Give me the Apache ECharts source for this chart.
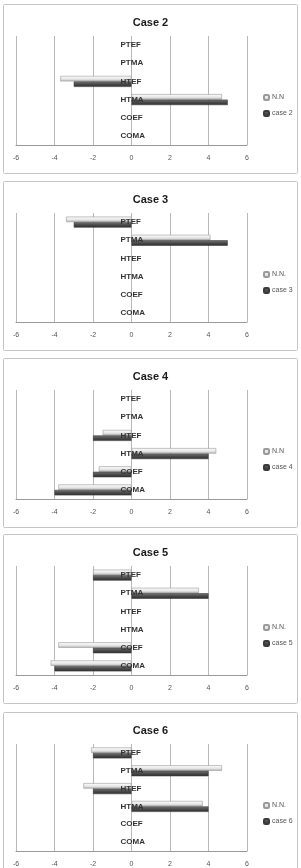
<!DOCTYPE html>
<html>
<head>
<meta charset="utf-8">
<script src="https://cdn.jsdelivr.net/npm/echarts@6/dist/echarts.min.js"></script>
<style>
html,body{margin:0;padding:0;background:#fff;}
#c{width:301px;height:868px;}
</style>
</head>
<body>
<div id="c"></div>
<script>
// Categories, bottom to top
const categories = ['COMA', 'COEF', 'HTMA', 'HTEF', 'PTMA', 'PTEF'];
const xTicks = [-6, -4, -2, 0, 2, 4, 6];
const panelTitles = ['Case 2', 'Case 3', 'Case 4', 'Case 5', 'Case 6'];
const refNames = ['N.N', 'N.N.', 'N.N', 'N.N.', 'N.N.'];
const caseNames = ['case 2', 'case 3', 'case 4', 'case 5', 'case 6'];

// values per category (COMA, COEF, HTMA, HTEF, PTMA, PTEF)
const nnCase2 = [0, 0, 4.7, -3.7, 0, 0];
const case2 = [0, 0, 5, -3, 0, 0];
const nnCase3 = [0, 0, 0, 0, 4.1, -3.4];
const case3 = [0, 0, 0, 0, 5, -3];
const nnCase4 = [-3.8, -1.7, 4.4, -1.5, 0, 0];
const case4 = [-4, -2, 4, -2, 0, 0];
const nnCase5 = [-4.2, -3.8, 0, 0, 3.5, -2];
const case5 = [-4, -2, 0, 0, 4, -2];
const nnCase6 = [0, 0, 3.7, -2.5, 4.7, -2.1];
const case6 = [0, 0, 4, -2, 4, -2];

const nnSeries = [nnCase2, nnCase3, nnCase4, nnCase5, nnCase6];
const caseSeries = [case2, case3, case4, case5, case6];

const panelTops = [4, 181, 358, 534, 712];
const W = 301;
const gridLeft = 16, gridRight = 247;

const lightFill = new echarts.graphic.LinearGradient(0, 0, 0, 1, [
  {offset: 0, color: '#ffffff'}, {offset: 0.6, color: '#e4e4e4'}, {offset: 1, color: '#b0b0b0'}
]);
const darkFill = new echarts.graphic.LinearGradient(0, 0, 0, 1, [
  {offset: 0, color: '#7a7a7a'}, {offset: 0.5, color: '#4a4a4a'}, {offset: 1, color: '#2e2e2e'}
]);

// zero-valued entries draw no bar
const barData = arr => arr.map(v => (v === 0 ? '-' : v));

const grids = [], xAxes = [], yAxes = [], series = [], titles = [], legends = [], graphics = [];
panelTops.forEach((T, i) => {
  const last = i === panelTops.length - 1;
  graphics.push({
    type: 'rect', silent: true, z: 0,
    shape: {x: 3.5, y: T + 0.5, width: 294, height: last ? 200 : 169, r: 1},
    style: {fill: '#fff', stroke: '#c4c4c4', lineWidth: 1}
  });
  titles.push({
    text: panelTitles[i], left: 'center', top: T + 8,
    textStyle: {fontFamily: 'Liberation Sans, Arial', fontWeight: 'bold', fontSize: 11, color: '#1a1a1a'}
  });
  grids.push({left: gridLeft, right: W - gridRight, top: T + 32, height: 109, containLabel: false});
  xAxes.push({
    type: 'value', gridIndex: i, min: -6, max: 6, interval: 2,
    axisLine: {show: true, lineStyle: {color: '#9a9a9a', width: 1}},
    axisTick: {show: false},
    splitLine: {show: true, lineStyle: {color: '#b8b8b8', width: 1}},
    axisLabel: {
      fontSize: 7, color: '#555', margin: 10, fontFamily: 'Liberation Sans, Arial',
      formatter: v => xTicks.includes(v) ? String(v) : ''
    }
  });
  // category labels sit next to the zero line (x = 0), starting slightly left of it
  const zeroX = gridLeft + (gridRight - gridLeft) / 2;
  yAxes.push({
    type: 'category', gridIndex: i, data: categories, z: 10,
    axisLine: {show: false},
    axisTick: {show: false},
    axisLabel: {
      align: 'left', margin: -(zeroX - gridLeft - 11), fontSize: 8, fontWeight: 'bold', color: '#333',
      fontFamily: 'Liberation Sans, Arial', padding: [3, 0, 0, 0]
    }
  });
  series.push({
    name: refNames[i], type: 'bar', xAxisIndex: i, yAxisIndex: i,
    data: barData(nnSeries[i]), barWidth: 5.5, barGap: '0%',
    itemStyle: {color: lightFill, borderColor: '#9a9a9a', borderWidth: 0.6},
    z: 1
  });
  series.push({
    name: caseNames[i], type: 'bar', xAxisIndex: i, yAxisIndex: i,
    data: barData(caseSeries[i]), barWidth: 5.5, barGap: '0%',
    itemStyle: {color: darkFill, borderColor: '#3a3a3a', borderWidth: 0.6},
    z: 1
  });
  legends.push({
    orient: 'vertical', left: 258, top: T + 85, itemWidth: 5, itemHeight: 5, itemGap: 9,
    data: [refNames[i], caseNames[i]],
    textStyle: {fontSize: 7, color: '#555', fontFamily: 'Liberation Sans, Arial', padding: [0, 0, 0, -2]},
    selectedMode: false
  });
});

const chart = echarts.init(document.getElementById('c'), null, {renderer: 'canvas'});
chart.setOption({
  animation: false,
  backgroundColor: '#fff',
  graphic: graphics,
  title: titles,
  grid: grids,
  xAxis: xAxes,
  yAxis: yAxes,
  legend: legends,
  series: series
});
</script>
</body>
</html>
